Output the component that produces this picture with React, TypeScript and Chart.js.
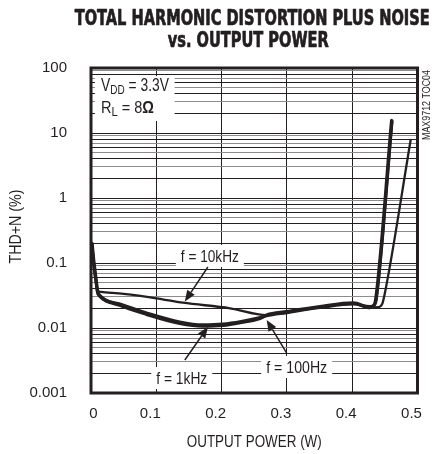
import React, { useEffect, useRef } from 'react';
import { Chart, registerables } from 'chart.js';

Chart.register(...registerables);

// ---------- data ----------
const xTickValues = [0, 0.1, 0.2, 0.3, 0.4, 0.5];
const yDecades = [0.001, 0.01, 0.1, 1, 10, 100];

const power10k = [0.0015, 0.004, 0.0077, 0.0102, 0.0153, 0.05, 0.1, 0.141, 0.213, 0.269, 0.2997, 0.3507, 0.4017, 0.427, 0.44, 0.446, 0.451, 0.4895];
const thd10k = [0.2, 0.11, 0.055, 0.038, 0.036, 0.0334, 0.0286, 0.0245, 0.0201, 0.0158, 0.0177, 0.0212, 0.024, 0.0208, 0.021, 0.0235, 0.0385, 7.8];

const power1k = [0.0015, 0.004, 0.0077, 0.0102, 0.0128, 0.043, 0.085, 0.136, 0.171, 0.202, 0.23, 0.259, 0.269, 0.2997, 0.3507, 0.4017, 0.427, 0.433, 0.436, 0.4605];
const thd1k = [0.2, 0.11, 0.055, 0.036, 0.032, 0.0226, 0.0163, 0.0118, 0.0107, 0.011, 0.0122, 0.0141, 0.0158, 0.0178, 0.0213, 0.0242, 0.0207, 0.022, 0.027, 15.5];

const power100 = [0.0015, 0.004, 0.0077, 0.0102, 0.0128, 0.043, 0.085, 0.136, 0.171, 0.202, 0.23, 0.259, 0.269, 0.2997, 0.3507, 0.4017, 0.427, 0.434, 0.437, 0.461];
const thd100 = [0.19, 0.1, 0.052, 0.035, 0.031, 0.0236, 0.0171, 0.0124, 0.0112, 0.0115, 0.0126, 0.0145, 0.0154, 0.0172, 0.0206, 0.0234, 0.0214, 0.0227, 0.028, 15.0];

// annotation labels (anchored in data coordinates)
const noteTexts = ['f = 10kHz', 'f = 1kHz', 'f = 100Hz'];
const noteAnchor = [[0.182, 0.128], [0.139, 0.0017], [0.315, 0.00251]];
const arrowFrom = [[0.179, 0.0867], [0.1437, 0.00322], [0.2997, 0.00412]];
const arrowTo = [[0.1437, 0.0256], [0.179, 0.01035], [0.269, 0.01327]];

const titleLines = ['TOTAL HARMONIC DISTORTION PLUS NOISE', 'vs. OUTPUT POWER'];
const xTitle = 'OUTPUT POWER (W)';
const yTitle = 'THD+N (%)';
const tocText = 'MAX9712 TOC04';

// all log-grid positions built from the decades
const yGridValues: number[] = [];
yDecades.forEach((d, i) => {
  if (i === yDecades.length - 1) { yGridValues.push(d); return; }
  for (let m = 1; m <= 9; m++) yGridValues.push(Number((m * d).toPrecision(3)));
});

const INK = '#231f20';
const SANS = '"Liberation Sans", Arial, sans-serif';
const COND = '"DejaVu Sans Condensed", "Liberation Sans Narrow", "Liberation Sans", sans-serif';

const isDecade = (v: number) => Math.abs(Math.log10(v) - Math.round(Math.log10(v))) < 1e-6;
const mantissa = (v: number) => Math.round(v / Math.pow(10, Math.floor(Math.log10(v) + 1e-9)));

function drawText(ctx: CanvasRenderingContext2D, text: string, x: number, y: number, font: string, opts: { width?: number; align?: CanvasTextAlign; rotate?: number; baseline?: CanvasTextBaseline; stroke?: number } = {}) {
  ctx.save();
  ctx.font = font;
  const w = ctx.measureText(text).width;
  const s = opts.width ? opts.width / w : 1;
  ctx.translate(x, y);
  if (opts.rotate) ctx.rotate(opts.rotate);
  ctx.scale(s, 1);
  ctx.textAlign = opts.align || 'center';
  ctx.textBaseline = opts.baseline || 'alphabetic';
  ctx.fillStyle = INK;
  ctx.fillText(text, 0, 0);
  if (opts.stroke) {
    ctx.strokeStyle = INK;
    ctx.lineWidth = opts.stroke;
    ctx.lineJoin = 'round';
    ctx.strokeText(text, 0, 0);
  }
  ctx.restore();
}

function drawArrow(ctx: CanvasRenderingContext2D, x1: number, y1: number, x2: number, y2: number) {
  const ang = Math.atan2(y2 - y1, x2 - x1);
  const L = 11, W = 4.5;
  const bx = x2 - L * Math.cos(ang), by = y2 - L * Math.sin(ang);
  ctx.save();
  ctx.strokeStyle = INK; ctx.fillStyle = INK; ctx.lineWidth = 1.5;
  ctx.beginPath(); ctx.moveTo(x1, y1); ctx.lineTo(bx, by); ctx.stroke();
  ctx.beginPath();
  ctx.moveTo(x2, y2);
  ctx.lineTo(bx + W * Math.sin(ang), by - W * Math.cos(ang));
  ctx.lineTo(bx - W * Math.sin(ang), by + W * Math.cos(ang));
  ctx.closePath(); ctx.fill();
  ctx.restore();
}

// draws a run of [text, size, dy, bold] pieces, scaled horizontally to a total width
function drawRuns(ctx: CanvasRenderingContext2D, runs: [string, number, number, boolean][], x: number, y: number, total: number) {
  ctx.save();
  let w = 0;
  runs.forEach(([t, sz, , b]) => { ctx.font = `${b ? 'bold ' : ''}${sz}px ${SANS}`; w += ctx.measureText(t).width; });
  const s = total / w;
  ctx.translate(x, y);
  ctx.scale(s, 1);
  ctx.fillStyle = INK;
  ctx.textAlign = 'left';
  ctx.textBaseline = 'alphabetic';
  let cx = 0;
  runs.forEach(([t, sz, dy, b]) => {
    ctx.font = `${b ? 'bold ' : ''}${sz}px ${SANS}`;
    ctx.fillText(t, cx, dy);
    cx += ctx.measureText(t).width;
  });
  ctx.restore();
}

const noteWidths = [58, 51, 61];

const decorPlugin = {
  id: 'decor',
  beforeDatasetsDraw(chart: any) {
    const ctx: CanvasRenderingContext2D = chart.ctx;
    const xs = chart.scales.x, ys = chart.scales.y;
    ctx.save();
    ctx.fillStyle = '#ffffff';
    // conditions box
    const bx1 = xs.getPixelForValue(0.006), bx2 = xs.getPixelForValue(0.128);
    const by1 = ys.getPixelForValue(75), by2 = ys.getPixelForValue(15.3);
    ctx.fillRect(bx1, by1, bx2 - bx1, by2 - by1);
    // note boxes
    noteTexts.forEach((t, i) => {
      const px = xs.getPixelForValue(noteAnchor[i][0]);
      const py = ys.getPixelForValue(noteAnchor[i][1]);
      const w = noteWidths[i] + 10;
      ctx.fillRect(px - w / 2, py - 11, w, 22);
    });
    ctx.restore();
  },
  afterDatasetsDraw(chart: any) {
    const ctx: CanvasRenderingContext2D = chart.ctx;
    const xs = chart.scales.x, ys = chart.scales.y;
    const a = chart.chartArea;
    // notes
    noteTexts.forEach((t, i) => {
      const px = xs.getPixelForValue(noteAnchor[i][0]);
      const py = ys.getPixelForValue(noteAnchor[i][1]);
      drawText(ctx, t, px, py + 6, `17px ${SANS}`, { width: noteWidths[i] });
      drawArrow(ctx, xs.getPixelForValue(arrowFrom[i][0]), ys.getPixelForValue(arrowFrom[i][1]),
        xs.getPixelForValue(arrowTo[i][0]), ys.getPixelForValue(arrowTo[i][1]));
    });
    // conditions text
    const cx = xs.getPixelForValue(0.0153);
    drawRuns(ctx, [['V', 18, 0, false], ['DD', 13, 3, false], [' = 3.3V', 18, 0, false]], cx, ys.getPixelForValue(44.3), 68);
    drawRuns(ctx, [['R', 17, 0, false], ['L', 13, 3, false], [' = 8', 17, 0, false], ['\u03A9', 17, 0, true]], cx, ys.getPixelForValue(20.3), 53);
    // frame
    ctx.save();
    ctx.strokeStyle = INK;
    ctx.lineWidth = 3;
    ctx.strokeRect(a.left, a.top, a.right - a.left, a.bottom - a.top);
    ctx.restore();
  },
  afterDraw(chart: any) {
    const ctx: CanvasRenderingContext2D = chart.ctx;
    const a = chart.chartArea;
    const mid = (a.left + a.right) / 2;
    // title, fitted horizontally
    ctx.save();
    ctx.font = `bold 21px ${COND}`;
    const s = 355 / ctx.measureText(titleLines[0]).width;
    const w2 = ctx.measureText(titleLines[1]).width * s;
    ctx.restore();
    drawText(ctx, titleLines[0], mid - 2, a.top - 43, `bold 21px ${COND}`, { width: 355, stroke: 0.7 });
    drawText(ctx, titleLines[1], mid - 6, a.top - 21, `bold 21px ${COND}`, { width: w2, stroke: 0.7 });
    // axis titles
    drawText(ctx, xTitle, mid, a.bottom + 54, `16px ${SANS}`, { width: 135 });
    drawText(ctx, yTitle, 17, (a.top + a.bottom) / 2 - 4, `16px ${SANS}`, { rotate: -Math.PI / 2, baseline: 'middle', width: 74 });
    drawText(ctx, tocText, a.right + 9, a.top + 37, `11px ${SANS}`, { rotate: -Math.PI / 2, baseline: 'middle', width: 70 });
  },
};

const pts = (xs: number[], ys: number[]) => xs.map((x, i) => ({ x, y: ys[i] }));

export default function App() {
  const ref = useRef<HTMLCanvasElement | null>(null);
  useEffect(() => {
    if (!ref.current) return;
    const common = { pointRadius: 0, borderColor: INK, backgroundColor: INK, fill: false, cubicInterpolationMode: 'monotone' as const, borderJoinStyle: 'round' as const, borderCapStyle: 'round' as const };
    const chart = new Chart(ref.current, {
      type: 'line',
      data: {
        datasets: [
          { label: 'f = 10kHz', data: pts(power10k, thd10k), borderWidth: 2.3, ...common },
          { label: 'f = 100Hz', data: pts(power100, thd100), borderWidth: 3, ...common },
          { label: 'f = 1kHz', data: pts(power1k, thd1k), borderWidth: 3.5, ...common },
        ],
      },
      options: {
        animation: false,
        responsive: false,
        maintainAspectRatio: false,
        layout: { padding: { top: 68, right: 20.5, left: 0, bottom: 0 } },
        plugins: { legend: { display: false }, tooltip: { enabled: false }, title: { display: false } },
        scales: {
          x: {
            type: 'linear',
            min: 0,
            max: 0.5,
            afterFit: (s: any) => { s.height = 61; s.paddingLeft = 0; s.paddingRight = 0; },
            afterBuildTicks: (s: any) => { s.ticks = xTickValues.map((v) => ({ value: v })); },
            border: { display: false },
            grid: { color: INK, lineWidth: 1, drawTicks: false },
            ticks: {
              color: INK,
              font: { family: SANS, size: 15 },
              padding: 12,
              labelOffset: -6,
              maxRotation: 0,
              autoSkip: false,
              callback: (v: any) => (Number(v) === 0 ? '    0' : Number(v).toFixed(1)),
            },
          },
          y: {
            type: 'logarithmic',
            min: 0.001,
            max: 100,
            afterFit: (s: any) => { s.width = 91; s.paddingTop = 0; s.paddingBottom = 0; },
            afterBuildTicks: (s: any) => { s.ticks = yGridValues.map((v) => ({ value: v })); },
            border: { display: false },
            grid: {
              drawTicks: false,
              lineWidth: 1,
              color: (c: any) => {
                const v = c.tick ? c.tick.value : 1;
                if (isDecade(v)) return INK;
                return mantissa(v) % 2 === 0 ? INK : '#8c8c8c';
              },
            },
            ticks: {
              color: INK,
              font: { family: SANS, size: 15 },
              padding: 24,
              autoSkip: false,
              callback: (v: any) => (isDecade(Number(v)) ? String(Number(v)) : ''),
            },
          },
        },
      },
      plugins: [decorPlugin],
    });
    return () => chart.destroy();
  }, []);
  return (
    <div style={{ position: 'absolute', left: 0, top: 0, width: 438, height: 454, background: '#fff' }}>
      <canvas ref={ref} width={438} height={454} style={{ display: 'block' }} />
    </div>
  );
}
